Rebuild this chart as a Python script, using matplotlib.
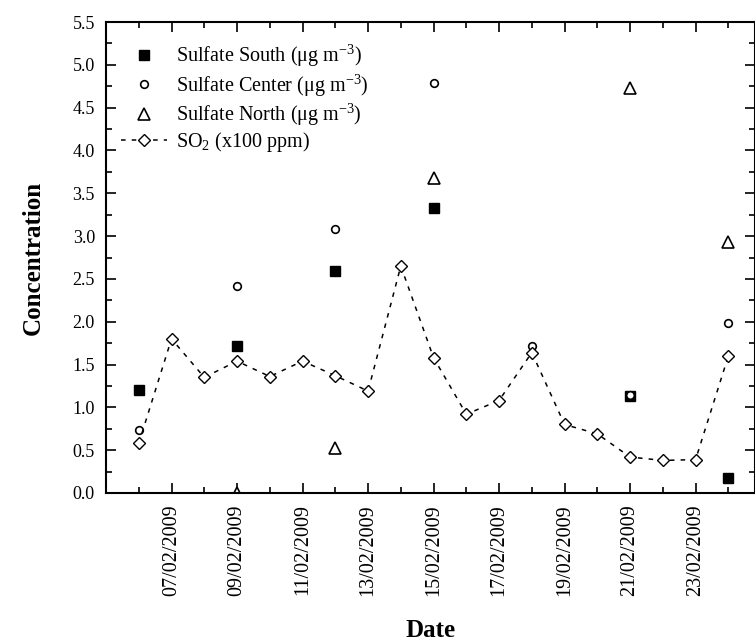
import matplotlib
matplotlib.use("Agg")
import matplotlib.pyplot as plt
from matplotlib.ticker import MultipleLocator, FixedLocator

plt.rcParams["font.family"] = ["Liberation Serif", "DejaVu Serif"]
plt.rcParams["mathtext.fontset"] = "custom"
plt.rcParams["mathtext.rm"] = "Liberation Serif"

# day of February 2009
so2_days = [6, 7, 8, 9, 10, 11, 12, 13, 14, 15, 16, 17, 18, 19, 20, 21, 22, 23, 24]
so2_vals = [0.58, 1.80, 1.35, 1.54, 1.36, 1.54, 1.37, 1.19, 2.65, 1.58,
            0.92, 1.08, 1.64, 0.80, 0.69, 0.42, 0.38, 0.39, 1.60]

south_days = [6, 9, 12, 15, 21, 24]
south_vals = [1.20, 1.72, 2.59, 3.33, 1.13, 0.18]

center_days = [6, 9, 12, 15, 18, 21, 24]
center_vals = [0.73, 2.42, 3.08, 4.79, 1.72, 1.15, 1.99]

north_days = [9, 12, 15, 21, 24]
north_vals = [0.0, 0.52, 3.68, 4.73, 2.93]

tick_days = [7, 9, 11, 13, 15, 17, 19, 21, 23]
tick_labels = ["%02d/02/2009" % d for d in tick_days]

fig = plt.figure(figsize=(7.55, 6.44), dpi=100)
ax = fig.add_axes([0.1404, 0.2345, 0.859, 0.7313])

ax.plot(south_days, south_vals, ls="none", marker="s", ms=7.5, color="black",
        label=r"Sulfate South ($\mathregular{\mu}$g m$^{\mathregular{-3}}$)")
ax.plot(center_days, center_vals, ls="none", marker="o", ms=5.5, mfc="white",
        mec="black", mew=1.2,
        label=r"Sulfate Center ($\mathregular{\mu}$g m$^{\mathregular{-3}}$)")
ax.plot(north_days, north_vals, ls="none", marker="^", ms=8, mfc="white",
        mec="black", mew=1.2,
        label=r"Sulfate North ($\mathregular{\mu}$g m$^{\mathregular{-3}}$)")
ax.plot(so2_days, so2_vals, ls=(0, (3, 4)), lw=1.1, color="black",
        marker="D", ms=6.5, mfc="white", mec="black", mew=1.0,
        label=r"SO$_{\mathregular{2}}$ (x100 ppm)")

ax.set_xlim(5, 24.8)
ax.set_ylim(0, 5.5)
ax.xaxis.set_major_locator(FixedLocator(tick_days))
ax.xaxis.set_minor_locator(MultipleLocator(1))
ax.set_xticklabels(tick_labels, rotation=90)
ax.yaxis.set_major_locator(MultipleLocator(0.5))
ax.yaxis.set_minor_locator(MultipleLocator(0.25))
ax.yaxis.set_major_formatter(matplotlib.ticker.FormatStrFormatter("%.1f"))

ax.tick_params(which="both", direction="in", top=True, right=True,
               labelsize=13, width=1.2)
ax.tick_params(axis="x", labelsize=14.5)
ax.tick_params(which="major", length=7, pad=8)
ax.tick_params(which="minor", length=4)
for s in ax.spines.values():
    s.set_linewidth(1.5)

ax.set_xlabel("Date", fontsize=18, fontweight="bold", labelpad=17)
ax.set_ylabel("Concentration", fontsize=18, fontweight="bold", labelpad=20)

ax.legend(loc="upper left", frameon=False, fontsize=14.5,
          bbox_to_anchor=(-0.005, 0.995), handlelength=2.3, labelspacing=0.12,
          handletextpad=0.45)

fig.savefig("out.png", dpi=100)
